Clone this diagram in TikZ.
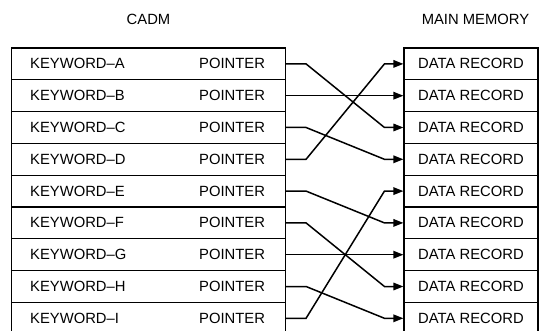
\documentclass[tikz,border=0pt]{standalone}
\usepackage{fontspec}
\setmainfont{Liberation Sans}
\usepackage{tikz}
\usetikzlibrary{arrows.meta}
\tikzset{
	cell/.style={draw, line width=1.1pt, minimum width=274pt, minimum height=31.8pt, inner sep=0pt},
	record/.style={draw, line width=1.1pt, minimum width=134pt, minimum height=31.8pt, inner sep=0pt},
	word/.style={anchor=west, inner sep=0pt},
	link/.style={line width=1.5pt, -{Triangle[length=10pt,width=7.5pt]}},
}

\begin{document}
\begin{tikzpicture}[x=1pt,y=-1pt,font=\fontsize{14.8}{17}\selectfont]
	\useasboundingbox (0,0) rectangle (541,331);

	\node (cadm) at (148.5,19) {CADM};
	\node (mem) at (475.5,19) {MAIN MEMORY};

	% keyword table
	\node[cell] (row1) at (148.5,63.9) {};
	\node[cell] (row2) at (148.5,95.7) {};
	\node[cell] (row3) at (148.5,127.5) {};
	\node[cell] (row4) at (148.5,159.3) {};
	\node[cell] (row5) at (148.5,191.1) {};
	\node[cell] (row6) at (148.5,222.9) {};
	\node[cell] (row7) at (148.5,254.7) {};
	\node[cell] (row8) at (148.5,286.5) {};
	\node[cell] (row9) at (148.5,318.3) {};

	\node[word] (kw1) at (30,63.9) {KEYWORD\textendash A};
	\node[word] (kw2) at (30,95.7) {KEYWORD\textendash B};
	\node[word] (kw3) at (30,127.5) {KEYWORD\textendash C};
	\node[word] (kw4) at (30,159.3) {KEYWORD\textendash D};
	\node[word] (kw5) at (30,191.1) {KEYWORD\textendash E};
	\node[word] (kw6) at (30,222.9) {KEYWORD\textendash F};
	\node[word] (kw7) at (30,254.7) {KEYWORD\textendash G};
	\node[word] (kw8) at (30,286.5) {KEYWORD\textendash H};
	\node[word] (kw9) at (30,318.3) {KEYWORD\textendash I};

	\node[word] (ptr1) at (199,63.9) {POINTER};
	\node[word] (ptr2) at (199,95.7) {POINTER};
	\node[word] (ptr3) at (199,127.5) {POINTER};
	\node[word] (ptr4) at (199,159.3) {POINTER};
	\node[word] (ptr5) at (199,191.1) {POINTER};
	\node[word] (ptr6) at (199,222.9) {POINTER};
	\node[word] (ptr7) at (199,254.7) {POINTER};
	\node[word] (ptr8) at (199,286.5) {POINTER};
	\node[word] (ptr9) at (199,318.3) {POINTER};

	% memory records
	\node[record] (rec1) at (471,63.9) {DATA RECORD};
	\node[record] (rec2) at (471,95.7) {DATA RECORD};
	\node[record] (rec3) at (471,127.5) {DATA RECORD};
	\node[record] (rec4) at (471,159.3) {DATA RECORD};
	\node[record] (rec5) at (471,191.1) {DATA RECORD};
	\node[record] (rec6) at (471,222.9) {DATA RECORD};
	\node[record] (rec7) at (471,254.7) {DATA RECORD};
	\node[record] (rec8) at (471,286.5) {DATA RECORD};
	\node[record] (rec9) at (471,318.3) {DATA RECORD};

	\draw[link] (row1.east) -- ++(20,0) -- ([xshift=-19pt]rec3.west) -- (rec3.west);
	\draw[link] (row2.east) -- (rec2.west);
	\draw[link] (row3.east) -- ++(20,0) -- ([xshift=-19pt]rec4.west) -- (rec4.west);
	\draw[link] (row4.east) -- ++(20,0) -- ([xshift=-19pt]rec1.west) -- (rec1.west);
	\draw[link] (row5.east) -- ++(20,0) -- ([xshift=-19pt]rec6.west) -- (rec6.west);
	\draw[link] (row6.east) -- ++(20,0) -- ([xshift=-19pt]rec8.west) -- (rec8.west);
	\draw[link] (row7.east) -- (rec7.west);
	\draw[link] (row8.east) -- ++(20,0) -- ([xshift=-19pt]rec9.west) -- (rec9.west);
	\draw[link] (row9.east) -- ++(20,0) -- ([xshift=-19pt]rec5.west) -- (rec5.west);
\end{tikzpicture}
\end{document}
